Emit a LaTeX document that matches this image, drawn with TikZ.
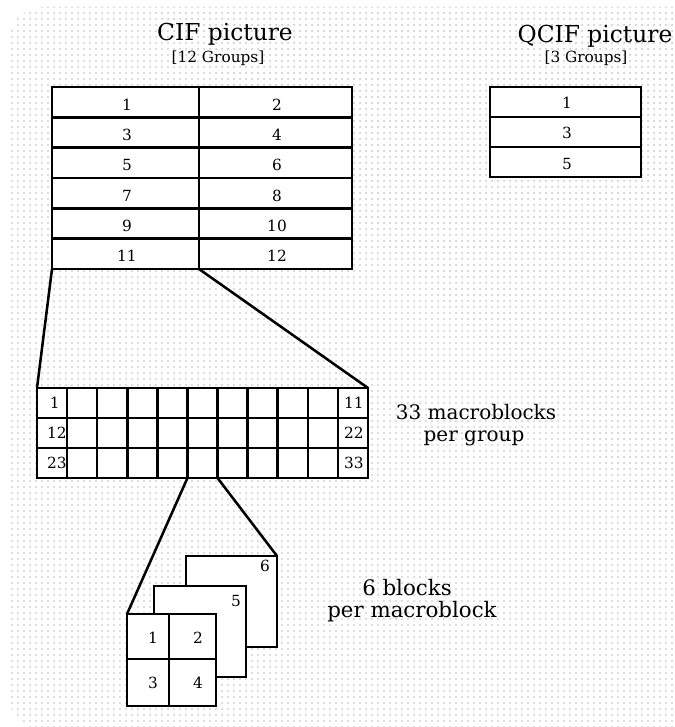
\documentclass[tikz,border=0pt]{standalone}
\usepackage{fontspec}
\setmainfont{DejaVu Serif}
\usetikzlibrary{patterns.meta}
\begin{document}
\begin{tikzpicture}[x=0.75pt,y=-0.75pt,
  box/.style={draw=black,fill=white,line width=1.9pt},
  gridline/.style={draw=black,line width=1.9pt},
  link/.style={draw=black,line width=1.9pt},
  num/.style={font=\fontsize{11.5}{13}\selectfont,inner sep=0pt,anchor=base},
  numr/.style={font=\fontsize{11.5}{13}\selectfont,inner sep=0pt,anchor=base east},
  titletext/.style={font=\fontsize{17.5}{21}\selectfont,inner sep=0pt,anchor=base},
  subtext/.style={font=\fontsize{11.5}{13}\selectfont,inner sep=0pt,anchor=base},
  bigtext/.style={font=\fontsize{15}{17}\selectfont,inner sep=0pt,anchor=base},
  bigtextb/.style={font=\fontsize{16}{18}\selectfont,inner sep=0pt,anchor=base},
]
\useasboundingbox (0,0) rectangle (674,727);
% background
\begin{scope}
\clip (0,0) rectangle (674,727);
\fill[white] (0,0) rectangle (674,727);
\fill[pattern={Dots[distance=4.5pt,radius=0.55pt]},pattern color=black!55,rounded corners=26pt] (9,7) rectangle (760,730);
\end{scope}

% titles
\node[titletext] (ciftitle) at (225,41) {CIF picture};
\node[subtext] (cifsub) at (218,63) {[12 Groups]};
\node[titletext] (qciftitle) at (595,43) {QCIF picture};
\node[subtext] (qcifsub) at (586,63) {[3 Groups]};

% connectors CIF -> macroblock grid
\coordinate (cifSW) at (52,269);
\coordinate (cifSM) at (199,269);
\coordinate (mbNW) at (37,388);
\coordinate (mbNE) at (368,388);
\draw[link] (cifSW) -- (mbNW);
\draw[link] (cifSM) -- (mbNE);

% CIF table
\draw[box] (52,87) rectangle (352,269);
\foreach \k in {1,...,5} {
  \draw[gridline] (52,{87+\k*30.33}) -- (352,{87+\k*30.33});
}
\draw[gridline] (199,87) -- (199,269);
\foreach \k in {0,...,5} {
  \pgfmathtruncatemacro{\a}{2*\k+1}
  \pgfmathtruncatemacro{\b}{2*\k+2}
  \node[num] (cif\a) at (127,{87+(\k+1)*30.33-7}) {\a};
  \node[num] (cif\b) at (277,{87+(\k+1)*30.33-7}) {\b};
}

% QCIF table
\draw[box] (490,87) rectangle (641,177);
\draw[gridline] (490,117) -- (641,117);
\draw[gridline] (490,147) -- (641,147);
\node[num] (q1) at (567,109) {1};
\node[num] (q3) at (567,139) {3};
\node[num] (q5) at (567,170) {5};

% macroblock grid
\draw[box] (37,388) rectangle (368,478);
\draw[gridline] (37,418) -- (368,418);
\draw[gridline] (37,448) -- (368,448);
\foreach \k in {1,...,10} {
  \draw[gridline] ({37+\k*30.09},388) -- ({37+\k*30.09},478);
}
\node[numr] (m1) at (60,408) {1};
\node[numr] (m12) at (67,438) {12};
\node[numr] (m23) at (67,468) {23};
\node[numr] (m11) at (364,408) {11};
\node[numr] (m22) at (364,438) {22};
\node[numr] (m33) at (364,468) {33};
\node[bigtext] (mbtextA) at (476,419) {33 macroblocks};
\node[bigtext] (mbtextB) at (474,441) {per group};

% connectors macroblock -> blocks
\coordinate (mbL) at ({37+5*30.09},478);
\coordinate (mbR) at ({37+6*30.09},478);
\coordinate (blkNW) at (127,614);
\coordinate (b6NE) at (277,556);
\draw[link] (mbL) -- (blkNW);
\draw[link] (mbR) -- (b6NE);

% blocks
\draw[box] (186,556) rectangle (277,647);
\node[num] (b6) at (265,571) {6};
\draw[box] (154,586) rectangle (246,677);
\node[num] (b5) at (236,606) {5};
\draw[box] (127,614) rectangle (216,706);
\draw[gridline] (169,614) -- (169,706);
\draw[gridline] (127,659) -- (216,659);
\node[num] (b1) at (153,643) {1};
\node[num] (b2) at (198,643) {2};
\node[num] (b3) at (153,688) {3};
\node[num] (b4) at (198,688) {4};
\node[bigtextb] (blktextA) at (407,595) {6 blocks};
\node[bigtextb] (blktextB) at (412,617) {per macroblock};
\end{tikzpicture}
\end{document}
